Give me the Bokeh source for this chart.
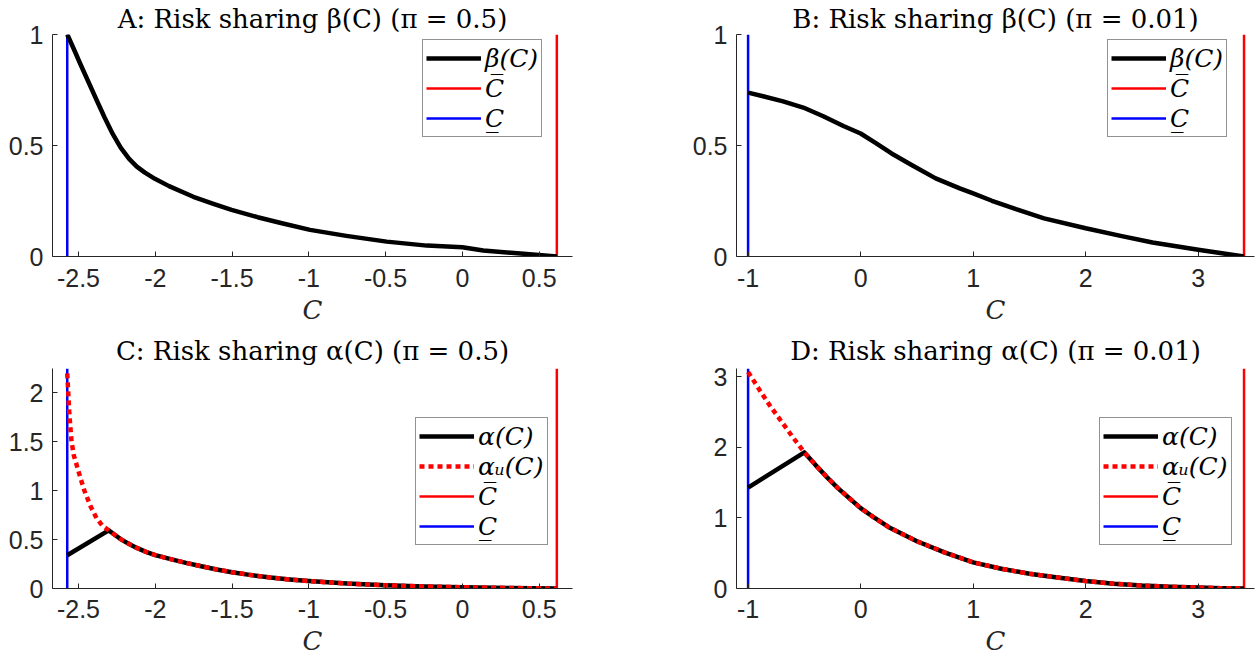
from bokeh.plotting import figure
from bokeh.models import Range1d, Legend, LegendItem, FixedTicker
from bokeh.layouts import column, row
from bokeh.embed import file_html
from bokeh.resources import INLINE

# ---------------- data ----------------
# Panel A: beta(C), pi = 0.5
cA = [-2.573, -2.566, -2.526, -2.487, -2.434, -2.382, -2.329, -2.277, -2.225, -2.17, -2.12,
      -2.067, -2.002, -1.910, -1.752, -1.621, -1.503, -1.333, -1.175, -0.992, -0.756, -0.493,
      -0.231, 0.0, 0.136, 0.399, 0.615]
betaA = [1.0, 0.99, 0.928, 0.866, 0.785, 0.705, 0.625, 0.552, 0.490, 0.44, 0.405,
         0.378, 0.350, 0.317, 0.269, 0.237, 0.210, 0.177, 0.150, 0.120, 0.093, 0.067,
         0.049, 0.042, 0.027, 0.012, 0.0]
cminA, cmaxA = -2.573, 0.615

# Panel B: beta(C), pi = 0.01
cB = [-1.0, -0.867, -0.689, -0.510, -0.332, -0.153, 0.0, 0.132, 0.275, 0.453, 0.667, 0.881,
      1.0, 1.167, 1.381, 1.630, 2.0, 2.31, 2.594, 3.0, 3.407]
betaB = [0.738, 0.722, 0.699, 0.671, 0.632, 0.588, 0.554, 0.512, 0.464, 0.412, 0.352, 0.307,
         0.284, 0.251, 0.213, 0.172, 0.127, 0.093, 0.063, 0.03, 0.0]
cminB, cmaxB = -1.0, 3.407

# Panel C: alpha(C) and alpha_U(C), pi = 0.5
cC_U = [-2.573, -2.568, -2.56, -2.545, -2.53, -2.513, -2.487, -2.461, -2.421, -2.382, -2.343,
        -2.303, -2.26, -2.22, -2.17, -2.12, -2.06, -2.0, -1.9, -1.8, -1.7, -1.6, -1.5, -1.375,
        -1.25, -1.125, -1.0, -0.75, -0.5, -0.25, 0.0, 0.3, 0.615]
alphaU_C = [2.2, 2.05, 1.8, 1.5, 1.36, 1.27, 1.13, 1.0, 0.84, 0.72, 0.64,
            0.595, 0.545, 0.50, 0.455, 0.415, 0.375, 0.342, 0.30, 0.262, 0.228, 0.195, 0.167,
            0.137, 0.112, 0.092, 0.076, 0.05, 0.033, 0.021, 0.013, 0.005, 0.0]
cC_a = [-2.573, -2.303, -2.26, -2.22, -2.17, -2.12, -2.06, -2.0, -1.9, -1.8, -1.7, -1.6, -1.5,
        -1.375, -1.25, -1.125, -1.0, -0.75, -0.5, -0.25, 0.0, 0.3, 0.615]
alpha_C = [0.34, 0.595, 0.545, 0.50, 0.455, 0.415, 0.375, 0.342, 0.30, 0.262, 0.228, 0.195,
           0.167, 0.137, 0.112, 0.092, 0.076, 0.05, 0.033, 0.021, 0.013, 0.005, 0.0]

# Panel D: alpha(C) and alpha_U(C), pi = 0.01
cD_U = [-1.0, -0.9, -0.8, -0.7, -0.6, -0.5, -0.4, -0.3, -0.2, -0.1, 0.0, 0.125, 0.25, 0.375,
        0.5, 0.75, 1.0, 1.25, 1.5, 1.75, 2.0, 2.25, 2.5, 2.75, 3.0, 3.2, 3.407]
alphaU_D = [3.07, 2.82, 2.58, 2.36, 2.14, 1.93, 1.75, 1.58, 1.42, 1.28, 1.14, 1.0, 0.87, 0.77,
            0.67, 0.51, 0.37, 0.28, 0.21, 0.155, 0.105, 0.068, 0.042, 0.025, 0.014, 0.005, 0.0]
cD_a = [-1.0, -0.5, -0.4, -0.3, -0.2, -0.1, 0.0, 0.125, 0.25, 0.375, 0.5, 0.75, 1.0, 1.25,
        1.5, 1.75, 2.0, 2.25, 2.5, 2.75, 3.0, 3.2, 3.407]
alpha_D = [1.43, 1.93, 1.75, 1.58, 1.42, 1.28, 1.14, 1.0, 0.87, 0.77, 0.67, 0.51, 0.37, 0.28,
           0.21, 0.155, 0.105, 0.068, 0.042, 0.025, 0.014, 0.005, 0.0]

# axes limits and ticks
xlimA = [-2.669, 0.717]
xlimB = [-1.103, 3.5]
ylimA = [0, 1]
ylimB = [0, 1]
ylimC = [0, 2.25]
ylimD = [0, 3.12]
xticksA = [-2.5, -2, -1.5, -1, -0.5, 0, 0.5]
xtick_labelsA = ["-2.5", "-2", "-1.5", "-1", "-0.5", "0", "0.5"]
xticksB = [-1, 0, 1, 2, 3]
xtick_labelsB = ["-1", "0", "1", "2", "3"]
yticksAB = [0, 0.5, 1]
ytick_labelsAB = ["0", "0.5", "1"]
yticksC = [0, 0.5, 1, 1.5, 2]
ytick_labelsC = ["0", "0.5", "1", "1.5", "2"]
yticksD = [0, 1, 2, 3]
ytick_labelsD = ["0", "1", "2", "3"]

titles = ["A: Risk sharing β(C) (π = 0.5)", "B: Risk sharing β(C) (π = 0.01)",
          "C: Risk sharing α(C) (π = 0.5)", "D: Risk sharing α(C) (π = 0.01)"]
lab_beta = "β(C)"
lab_alpha = "α(C)"
lab_alphaU = "αᵤ(C)"
lab_cbar = "C\u0305"
lab_cund = "C\u0332"

AXC = "#262626"
TICKFONT = "Liberation Sans"
SERIF = "DejaVu Serif"


def make_fig(title, xlim, ylim, xt, xtl, yt, ytl, left, right, top, bottom, fw, fh,
             tstand, lstand, title_stand):
    p = figure(frame_width=fw, frame_height=fh, output_backend="svg", toolbar_location=None,
               x_range=Range1d(*xlim), y_range=Range1d(*ylim),
               min_border_left=left, min_border_right=right, min_border_top=top,
               min_border_bottom=bottom, background_fill_color="white",
               border_fill_color="white", outline_line_color=None)
    p.title.text = title
    p.title.text_font = SERIF
    p.title.text_font_size = "26px"
    p.title.text_font_style = "normal"
    p.title.text_color = "#000000"
    p.title.align = "center"
    p.title.standoff = title_stand
    p.grid.visible = False
    for ax in (p.xaxis[0], p.yaxis[0]):
        ax.axis_line_color = AXC
        ax.axis_line_width = 1
        ax.major_tick_line_color = AXC
        ax.major_tick_in = 5
        ax.major_tick_out = 0
        ax.minor_tick_line_color = None
        ax.major_label_text_font = TICKFONT
        ax.major_label_text_font_size = "25px"
        ax.major_label_text_color = AXC
    p.xaxis.ticker = FixedTicker(ticks=xt)
    p.xaxis.major_label_overrides = {float(k): v for k, v in zip(xt, xtl)}
    p.yaxis.ticker = FixedTicker(ticks=yt)
    p.yaxis.major_label_overrides = {float(k): v for k, v in zip(yt, ytl)}
    p.xaxis.major_label_standoff = tstand
    p.yaxis.major_label_standoff = 9
    p.xaxis.axis_label = "C"
    p.xaxis.axis_label_text_font = SERIF
    p.xaxis.axis_label_text_font_style = "italic"
    p.xaxis.axis_label_text_font_size = "26px"
    p.xaxis.axis_label_text_color = AXC
    p.xaxis.axis_label_standoff = lstand
    return p


def style_legend(p, items, loc):
    leg = Legend(items=items, location=loc, label_text_font=SERIF,
                 label_text_font_style="italic", label_text_font_size="25px",
                 label_text_color="#000000", label_height=30, glyph_height=30,
                 glyph_width=55, label_standoff=4, spacing=0, padding=3, margin=0,
                 border_line_color=AXC, border_line_width=1,
                 background_fill_color="white", background_fill_alpha=1.0)
    p.add_layout(leg)


def beta_panel(title, c, b, cmin, cmax, xlim, ylim, xt, xtl, left, right, fw, loc):
    p = make_fig(title, xlim, ylim, xt, xtl, yticksAB, ytick_labelsAB, left, right, 34, 75,
                 fw, 222, 12, 5, 2)
    rb = p.line([cmax, cmax], ylim, line_color="#ff0000", line_width=2.5)
    bl = p.line([cmin, cmin], ylim, line_color="#0000ff", line_width=2.5)
    bt = p.line(c, b, line_color="black", line_width=4.5, line_join="round")
    style_legend(p, [LegendItem(label=lab_beta, renderers=[bt]),
                     LegendItem(label=lab_cbar, renderers=[rb]),
                     LegendItem(label=lab_cund, renderers=[bl])], loc)
    return p


def alpha_panel(title, cu, au, ca, aa, cmin, cmax, xlim, ylim, xt, xtl, yt, ytl, left, right,
                fw, loc):
    p = make_fig(title, xlim, ylim, xt, xtl, yt, ytl, left, right, 37, 74, fw, 220, 11, 5, 5)
    rb = p.line([cmax, cmax], ylim, line_color="#ff0000", line_width=2.5)
    bl = p.line([cmin, cmin], ylim, line_color="#0000ff", line_width=2.5)
    al = p.line(ca, aa, line_color="black", line_width=4.5, line_join="round")
    au_r = p.line(cu, au, line_color="#ff0000", line_width=4.5, line_dash="5 4",
                  line_join="round")
    style_legend(p, [LegendItem(label=lab_alpha, renderers=[al]),
                     LegendItem(label=lab_alphaU, renderers=[au_r]),
                     LegendItem(label=lab_cbar, renderers=[rb]),
                     LegendItem(label=lab_cund, renderers=[bl])], loc)
    return p


pA = beta_panel(titles[0], cA, betaA, cminA, cmaxA, xlimA, ylimA, xticksA, xtick_labelsA,
                52, 58, 520, (370, 119))
pB = beta_panel(titles[1], cB, betaB, cminB, cmaxB, xlimB, ylimB, xticksB, xtick_labelsB,
                106, 4, 518, (371, 119))
pC = alpha_panel(titles[2], cC_U, alphaU_C, cC_a, alpha_C, cminA, cmaxA, xlimA, ylimC,
                 xticksA, xtick_labelsA, yticksC, ytick_labelsC, 52, 58, 520, (363, 43))
pD = alpha_panel(titles[3], cD_U, alphaU_D, cD_a, alpha_D, cminB, cmaxB, xlimB, ylimD,
                 xticksB, xtick_labelsB, yticksD, ytick_labelsD, 106, 4, 518, (363, 43))

layout = column(row(pA, pB), row(pC, pD))
open("out.html", "w").write(file_html(layout, INLINE))
